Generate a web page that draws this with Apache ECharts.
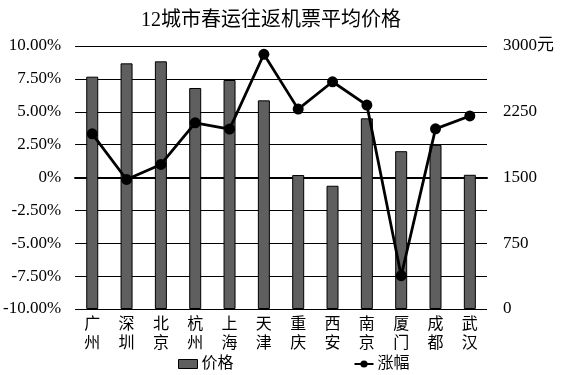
<!DOCTYPE html>
<html>
<head>
<meta charset="utf-8">
<script src="https://cdn.jsdelivr.net/npm/echarts@6/dist/echarts.min.js"></script>
<style>html,body{margin:0;padding:0;background:#fff}#c{width:561px;height:375px}</style>
</head>
<body>
<div id="c"></div>
<script>
var categories = ['广州','深圳','北京','杭州','上海','天津','重庆','西安','南京','厦门','成都','武汉'];
var priceValues = [2650, 2802, 2825, 2521, 2612, 2380, 1528, 1406, 2175, 1800, 1872, 1531];
var changeValues = [3.32, -0.15, 0.99, 4.16, 3.68, 9.37, 5.20, 7.28, 5.51, -7.47, 3.70, 4.68];
var titleText = '12城市春运往返机票平均价格';
var seriesNames = ['价格', '涨幅'];

var FONT = '"Liberation Serif", "Noto Sans CJK SC", serif';
var chart = echarts.init(document.getElementById('c'), null, {renderer: 'canvas'});
chart.setOption({
  animation: false,
  backgroundColor: '#fff',
  title: {
    text: titleText,
    left: 136, top: 6,
    textStyle: {fontFamily: FONT, fontSize: 20, fontWeight: 'normal', color: '#000'}
  },
  legend: {
    left: 173, top: 351,
    itemGap: 120,
    itemWidth: 19, itemHeight: 9,
    textStyle: {fontFamily: FONT, fontSize: 16, color: '#000', padding: [0,0,0,-1]},
    data: [
      {name: seriesNames[0], icon: 'rect', itemStyle: {color: '#5f5f5f', borderColor: '#000', borderWidth: 1}},
      {name: seriesNames[1]}
    ]
  },
  grid: {left: 75, right: 74, top: 46, bottom: 66},
  xAxis: {
    type: 'category',
    data: categories,
    axisTick: {show: false},
    axisLine: {lineStyle: {color: '#000', width: 2}},
    axisLabel: {
      fontFamily: FONT, fontSize: 16, color: '#000', lineHeight: 19, margin: 6,
      formatter: function (v) { return v.split('').join('\n'); }
    }
  },
  yAxis: [
    {
      type: 'value', min: -10, max: 10, interval: 2.5,
      axisLine: {show: false}, axisTick: {show: false},
      splitLine: {lineStyle: {color: '#000', width: 1}},
      axisLabel: {
        fontFamily: FONT, fontSize: 17, color: '#000', margin: 14,
        formatter: function (v) { return v === 0 ? '0%' : v.toFixed(2) + '%'; }
      }
    },
    {
      type: 'value', min: 0, max: 3000, interval: 750,
      axisLine: {show: false}, axisTick: {show: false},
      splitLine: {show: false},
      axisLabel: {
        fontFamily: FONT, fontSize: 17, color: '#000', margin: 16,
        formatter: function (v) { return v === 3000 ? '3000元' : String(v); }
      }
    }
  ],
  series: [
    {
      name: seriesNames[0], type: 'bar', yAxisIndex: 1,
      data: priceValues, barWidth: 12,
      itemStyle: {color: '#5f5f5f', borderColor: '#000', borderWidth: 1},
      z: 2
    },
    {
      name: seriesNames[1], type: 'line', yAxisIndex: 0,
      data: changeValues,
      symbol: 'circle', symbolSize: 11,
      lineStyle: {color: '#000', width: 2.8},
      itemStyle: {color: '#000'},
      z: 3
    }
  ]
});
</script>
</body>
</html>
